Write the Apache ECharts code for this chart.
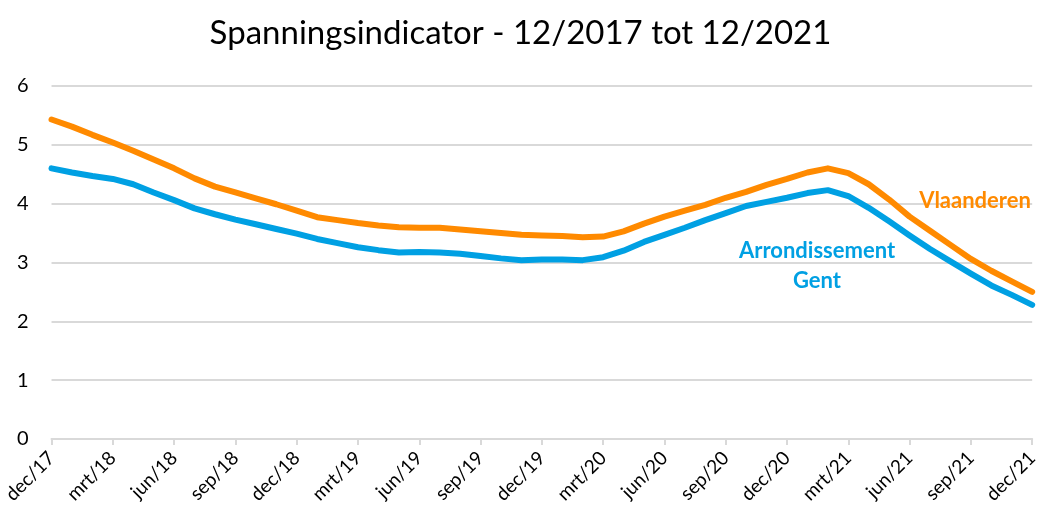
<!DOCTYPE html>
<html>
<head>
<meta charset="utf-8">
<script src="https://cdn.jsdelivr.net/npm/echarts@6/dist/echarts.min.js"></script>
<style>
  html, body { margin: 0; padding: 0; background: #fff; }
  #mainChart { width: 1041px; height: 518px; }
</style>
</head>
<body>
<div id="mainChart"></div>
<script>
// maandnamen voor de categorie-as (dec/17 .. dec/21)
var maanden = ['jan', 'feb', 'mrt', 'apr', 'mei', 'jun', 'jul', 'aug', 'sep', 'okt', 'nov', 'dec']
var categories = ['dec/17']
for (var j = 18; j <= 21; j++) {
  maanden.forEach(function (m) { categories.push(m + '/' + j) })
}

// Vlaanderen
var vlaanderen = [
  5.43, 5.31, 5.17, 5.04, 4.90, 4.75, 4.60, 4.43, 4.29, 4.19,
  4.09, 3.99, 3.88, 3.77, 3.72, 3.67, 3.63, 3.60, 3.59, 3.59,
  3.56, 3.53, 3.50, 3.47, 3.46, 3.45, 3.43, 3.44, 3.53, 3.66,
  3.78, 3.88, 3.98, 4.10, 4.20, 4.32, 4.42, 4.53, 4.60, 4.52,
  4.33, 4.07, 3.78, 3.54, 3.30, 3.06, 2.86, 2.68, 2.50
]

// Arrondissement Gent
var gent = [
  4.60, 4.53, 4.47, 4.42, 4.33, 4.19, 4.06, 3.92, 3.82, 3.73,
  3.65, 3.57, 3.49, 3.40, 3.33, 3.26, 3.21, 3.17, 3.18, 3.17,
  3.15, 3.11, 3.07, 3.04, 3.05, 3.05, 3.04, 3.09, 3.20, 3.35,
  3.47, 3.59, 3.72, 3.84, 3.96, 4.03, 4.10, 4.18, 4.23, 4.13,
  3.93, 3.70, 3.46, 3.23, 3.02, 2.81, 2.61, 2.45, 2.28
]

var yTicks = [0, 1, 2, 3, 4, 5, 6]

var oranje = '#ff8a00'
var blauw = '#00a0e3'
var grijs = '#d9d9d9'
var font = 'Lato, "Open Sans", sans-serif'

var chart = echarts.init(document.getElementById('mainChart'))

var option = {
  animation: false,
  title: {
    text: 'Spanningsindicator - 12/2017 tot 12/2021',
    left: 'center',
    top: 12,
    textStyle: { fontFamily: font, fontSize: 33, fontWeight: 'normal', color: '#000' }
  },
  grid: { left: 50, right: 8, top: 86, bottom: 79 },
  xAxis: {
    type: 'category',
    boundaryGap: false,
    data: categories,
    axisLine: { lineStyle: { color: grijs, width: 2 } },
    axisTick: { interval: 2, length: 6, lineStyle: { color: grijs, width: 2 } },
    axisLabel: {
      interval: 2,
      rotate: 45,
      margin: 16,
      fontFamily: font,
      fontSize: 19,
      color: '#000'
    }
  },
  yAxis: {
    type: 'value',
    min: yTicks[0],
    max: yTicks[yTicks.length - 1],
    interval: 1,
    axisLine: { show: false },
    axisTick: { show: false },
    axisLabel: { margin: 23, fontFamily: font, fontSize: 20, color: '#000' },
    splitLine: { lineStyle: { color: grijs, width: 2 } }
  },
  series: [
    {
      name: 'Vlaanderen',
      type: 'line',
      data: vlaanderen,
      showSymbol: false,
      lineStyle: { color: oranje, width: 6, cap: 'round', join: 'round' },
      itemStyle: { color: oranje },
      z: 3
    },
    {
      name: 'Arrondissement Gent',
      type: 'line',
      data: gent,
      showSymbol: false,
      lineStyle: { color: blauw, width: 6, cap: 'round', join: 'round' },
      itemStyle: { color: blauw },
      z: 4
    }
  ],
  graphic: [
    {
      type: 'text',
      z: 100,
      x: 975,
      y: 201,
      style: {
        text: 'Vlaanderen',
        fill: oranje,
        font: 'bold 22px ' + font,
        align: 'center',
        verticalAlign: 'middle'
      }
    },
    {
      type: 'text',
      z: 100,
      x: 817,
      y: 266,
      style: {
        text: 'Arrondissement\nGent',
        fill: blauw,
        font: 'bold 22px ' + font,
        align: 'center',
        verticalAlign: 'middle',
        lineHeight: 30
      }
    }
  ]
}

chart.setOption(option)
</script>
</body>
</html>
